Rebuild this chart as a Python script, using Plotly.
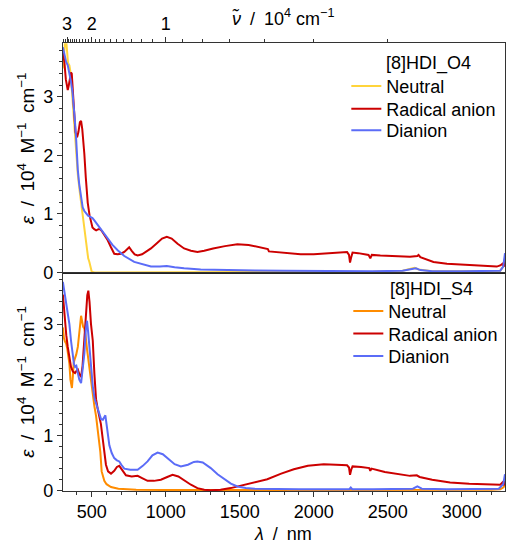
import plotly.graph_objects as go

# ---------------- data ----------------
# [8]HDI_O4 (top panel)
o4_neutral_x = [305, 312, 320, 327, 333, 340, 349, 358, 365, 375, 383, 395, 406, 418, 428, 440, 450, 460,
                468, 476, 484, 492, 500, 520, 600, 800, 1200, 1600, 2000, 2400, 2600, 2680, 2710, 2740,
                2800, 3000, 3200, 3260, 3280, 3292]
o4_neutral_y = [3.49, 3.7, 3.95, 3.98, 3.8, 3.58, 3.54, 3.4, 3.15, 2.75, 2.42, 2.0, 1.67, 1.4, 1.19, 0.95,
                0.74, 0.5, 0.32, 0.24, 0.18, 0.08, 0.01, 0.0, 0.0, 0.01, 0.01, 0.01, 0.01, 0.01, 0.03,
                0.08, 0.05, 0.04, 0.02, 0.02, 0.02, 0.03, 0.1, 0.2]

o4_radical_x = [305, 315, 325, 332, 338, 345, 352, 360, 365, 372, 380, 390, 401, 410, 420, 428, 436, 443,
                450, 460, 473, 485, 495, 505, 517, 530, 545, 558, 570, 590, 608, 630, 652, 675, 697, 720,
                740, 753, 770, 790, 810, 840, 870, 900, 940, 975, 1007, 1040, 1080, 1124, 1170, 1214,
                1260, 1320, 1400, 1484, 1560, 1641, 1690, 1697, 1750, 1830, 1911, 2000, 2100, 2180, 2225,
                2238, 2245, 2252, 2262, 2300, 2370, 2382, 2392, 2450, 2520, 2584, 2650, 2700, 2708, 2720,
                2760, 2809, 2900, 3034, 3150, 3236, 3260, 3275, 3285, 3292]
o4_radical_y = [3.77, 3.6, 3.3, 3.15, 3.12, 3.2, 3.35, 3.42, 3.40, 3.1, 2.75, 2.4, 2.31, 2.4, 2.57, 2.59,
                2.45, 2.25, 2.03, 1.62, 1.19, 0.98, 0.85, 0.77, 0.74, 0.72, 0.74, 0.74, 0.70, 0.62, 0.55,
                0.43, 0.32, 0.31, 0.32, 0.35, 0.41, 0.43, 0.37, 0.31, 0.29, 0.31, 0.36, 0.41, 0.5, 0.58,
                0.61, 0.58, 0.49, 0.41, 0.37, 0.35, 0.37, 0.41, 0.45, 0.48, 0.47, 0.42, 0.40, 0.36, 0.35,
                0.33, 0.31, 0.31, 0.33, 0.34, 0.35, 0.30, 0.17, 0.25, 0.34, 0.33, 0.30, 0.24, 0.30, 0.29,
                0.28, 0.28, 0.27, 0.28, 0.30, 0.26, 0.22, 0.18, 0.15, 0.13, 0.11, 0.10, 0.12, 0.15, 0.10,
                0.25]

o4_dianion_x = [305, 315, 327, 338, 350, 360, 370, 378, 386, 394, 400, 406, 415, 423, 431, 439, 450, 462,
                475, 484, 495, 505, 515, 529, 545, 563, 585, 608, 640, 675, 720, 787, 850, 900, 960, 1007,
                1060, 1124, 1236, 1400, 1600, 1800, 2000, 2200, 2400, 2600, 2660, 2690, 2720, 2800, 3000,
                3200, 3260, 3280, 3292]
o4_dianion_y = [3.85, 3.72, 3.6, 3.54, 3.4, 3.26, 3.08, 2.87, 2.6, 2.31, 2.0, 1.75, 1.52, 1.36, 1.22, 1.11,
                1.05, 1.0, 0.97, 0.96, 0.95, 0.93, 0.9, 0.85, 0.8, 0.75, 0.67, 0.57, 0.47, 0.38, 0.28,
                0.18, 0.13, 0.10, 0.10, 0.11, 0.09, 0.07, 0.05, 0.04, 0.035, 0.03, 0.025, 0.02, 0.02, 0.03,
                0.05, 0.07, 0.04, 0.02, 0.02, 0.02, 0.03, 0.1, 0.33]

# [8]HDI_S4 (bottom panel)
s4_neutral_x = [305, 312, 320, 327, 335, 342, 349, 356, 362, 366, 372, 378, 385, 395, 406, 415, 422, 428,
                435, 442, 450, 458, 468, 480, 492, 507, 518, 529, 540, 551, 558, 567, 575, 585, 600, 630,
                680, 720, 800, 1000, 1500, 2000, 2500, 3000, 3200, 3260, 3280, 3292]
s4_neutral_y = [2.94, 2.75, 2.68, 2.65, 2.55, 2.4, 2.29, 2.0, 1.87, 1.85, 2.05, 2.3, 2.37, 2.45, 2.59, 2.85,
                3.1, 3.15, 3.05, 2.95, 2.92, 2.8, 2.55, 2.3, 2.0, 1.71, 1.52, 1.35, 1.12, 0.94, 0.7, 0.35,
                0.25, 0.18, 0.12, 0.07, 0.04, 0.03, 0.02, 0.015, 0.015, 0.015, 0.02, 0.02, 0.02, 0.03,
                0.06, 0.1]

s4_radical_x = [305, 312, 320, 328, 338, 349, 360, 372, 387, 398, 406, 416, 428, 438, 450, 460, 470, 477,
                485, 495, 507, 518, 529, 540, 551, 562, 574, 585, 596, 610, 630, 652, 670, 686, 705, 731,
                770, 810, 840, 877, 920, 967, 1010, 1046, 1085, 1124, 1170, 1214, 1260, 1304, 1370, 1439,
                1500, 1573, 1686, 1780, 1865, 1960, 2067, 2150, 2225, 2238, 2245, 2253, 2262, 2320, 2375,
                2382, 2390, 2480, 2584, 2650, 2696, 2715, 2800, 2921, 3050, 3213, 3260, 3275, 3285, 3292]
s4_radical_y = [3.53, 3.25, 3.0, 2.8, 2.59, 2.38, 2.23, 2.15, 2.12, 2.16, 2.18, 2.1, 2.05, 2.25, 2.7, 3.2,
                3.52, 3.60, 3.4, 3.0, 2.7, 2.1, 1.65, 1.48, 1.35, 1.2, 0.94, 0.7, 0.47, 0.35, 0.31, 0.36,
                0.43, 0.45, 0.37, 0.28, 0.26, 0.27, 0.23, 0.18, 0.18, 0.20, 0.25, 0.29, 0.26, 0.19, 0.11,
                0.05, 0.02, 0.01, 0.02, 0.05, 0.09, 0.13, 0.21, 0.31, 0.39, 0.45, 0.48, 0.47, 0.46, 0.42,
                0.29, 0.38, 0.44, 0.43, 0.41, 0.36, 0.40, 0.34, 0.29, 0.27, 0.28, 0.25, 0.2, 0.15, 0.13,
                0.11, 0.11, 0.15, 0.10, 0.18]

s4_dianion_x = [305, 315, 327, 338, 349, 360, 372, 380, 387, 396, 406, 416, 428, 438, 450, 460, 468, 476,
                484, 491, 500, 507, 520, 540, 552, 563, 575, 585, 592, 600, 610, 619, 635, 652, 670, 686,
                700, 720, 760, 810, 845, 877, 910, 945, 980, 1020, 1060, 1102, 1150, 1190, 1214, 1250,
                1304, 1350, 1394, 1440, 1484, 1540, 1600, 1700, 1900, 2100, 2240, 2250, 2260, 2400, 2600,
                2670, 2700, 2730, 2900, 3100, 3250, 3280, 3292]
s4_dianion_y = [3.76, 3.6, 3.41, 3.2, 3.0, 2.7, 2.41, 2.28, 2.23, 2.25, 2.12, 2.0, 1.94, 2.15, 2.47, 2.9,
                3.06, 2.85, 2.55, 2.41, 2.1, 1.88, 1.65, 1.47, 1.36, 1.29, 1.28, 1.34, 1.36, 1.2, 0.98,
                0.82, 0.68, 0.59, 0.55, 0.53, 0.47, 0.40, 0.38, 0.38, 0.45, 0.53, 0.64, 0.69, 0.66, 0.57,
                0.48, 0.44, 0.47, 0.52, 0.53, 0.51, 0.41, 0.30, 0.21, 0.13, 0.08, 0.05, 0.04, 0.035, 0.03,
                0.03, 0.03, 0.06, 0.03, 0.03, 0.03, 0.04, 0.08, 0.04, 0.03, 0.03, 0.04, 0.12, 0.3]

series_names = ["Neutral", "Radical anion", "Dianion"]
top_colors = ["#FFD43B", "#CC0000", "#5B6CF7"]
bottom_colors = ["#FF8C00", "#CC0000", "#5B6CF7"]
panel_titles = ["[8]HDI_O4", "[8]HDI_S4"]

# top axis: wavenumber in 10^4 cm^-1
wn_major = [3, 2, 1]
wn_minor = [round(0.4 + 0.1 * i, 1) for i in range(29)]
wn_minor = [v for v in wn_minor if v not in (1.0, 2.0, 3.0)]

X_RANGE = [305, 3292]
Y_RANGE = [0, 3.92]

W, H = 507, 548
def px(x):
    return x / W
def py(y):
    return 1 - y / H

FONT = "Arial, Liberation Sans, sans-serif"
AX = "#333333"
SP = "\u2002"

fig = go.Figure()

top = [(o4_neutral_x, o4_neutral_y), (o4_radical_x, o4_radical_y), (o4_dianion_x, o4_dianion_y)]
bot = [(s4_neutral_x, s4_neutral_y), (s4_radical_x, s4_radical_y), (s4_dianion_x, s4_dianion_y)]

top_leg_y = [88, 111, 133]
bot_leg_y = [317, 340, 363]
legends = {}
for i, ((xs, ys), name, c) in enumerate(zip(top, series_names, top_colors)):
    key = "legend" if i == 0 else f"legend{i + 1}"
    fig.add_trace(go.Scatter(x=xs, y=ys, mode="lines", name=name, line=dict(color=c, width=2),
                             xaxis="x", yaxis="y", legend=key))
    legends[key] = dict(x=px(346), y=py(top_leg_y[i]))
for i, ((xs, ys), name, c) in enumerate(zip(bot, series_names, bottom_colors)):
    key = f"legend{i + 4}"
    fig.add_trace(go.Scatter(x=xs, y=ys, mode="lines", name=name, line=dict(color=c, width=2),
                             xaxis="x2", yaxis="y2", legend=key))
    legends[key] = dict(x=px(348), y=py(bot_leg_y[i]))
# carrier for the top wavenumber axis
fig.add_trace(go.Scatter(x=[X_RANGE[0]], y=[None], mode="lines", xaxis="x3", yaxis="y",
                         showlegend=False, hoverinfo="skip"))

top_dom = [py(277.5), py(44)]
bot_dom = [py(500), py(278)]
x_dom = [px(62), px(505)]

common_y = dict(range=Y_RANGE, showline=True, linecolor=AX, linewidth=1, mirror=True,
                ticks="outside", ticklen=5, tickcolor=AX, dtick=1, tick0=0,
                minor=dict(dtick=0.2, ticks="outside", ticklen=3, tickcolor=AX),
                showgrid=False, zeroline=False, tickfont=dict(size=18, family=FONT, color="black"))

layout = dict(
    width=W, height=H,
    margin=dict(l=0, r=0, t=0, b=0, pad=0),
    paper_bgcolor="white", plot_bgcolor="white",
    font=dict(family=FONT, size=18, color="black"),
    xaxis=dict(domain=x_dom, anchor="y", range=X_RANGE, showline=True, linecolor="#222", linewidth=1.5,
               showticklabels=False, ticks="", showgrid=False, zeroline=False),
    yaxis=dict(domain=top_dom, anchor="x", **common_y),
    xaxis2=dict(domain=x_dom, anchor="y2", range=X_RANGE, showline=True, linecolor=AX, linewidth=1,
                mirror=True, ticks="outside", ticklen=5, tickcolor=AX, dtick=500, tick0=0,
                minor=dict(dtick=100, ticks="outside", ticklen=3, tickcolor=AX),
                showgrid=False, zeroline=False, tickfont=dict(size=18, family=FONT, color="black")),
    yaxis2=dict(domain=bot_dom, anchor="x2", **common_y),
    xaxis3=dict(overlaying="x", anchor="y", side="top", range=X_RANGE, showline=True, linecolor=AX,
                linewidth=1, ticks="outside", ticklen=5, tickcolor=AX,
                tickmode="array", tickvals=[1000 / v for v in wn_major], ticktext=[str(v) for v in wn_major],
                minor=dict(tickmode="array", tickvals=[1000 / v for v in wn_minor], ticks="outside",
                           ticklen=3, tickcolor=AX),
                showgrid=False, zeroline=False, tickfont=dict(size=18, family=FONT, color="black")),
    showlegend=True,
)
for key, pos in legends.items():
    layout[key] = dict(x=pos["x"], y=pos["y"], xanchor="left", yanchor="middle",
                       bgcolor="rgba(0,0,0,0)", borderwidth=0,
                       font=dict(size=18, family=FONT, color="black"), itemwidth=30)
fig.update_layout(**layout)

eps_title = f"<i>ε</i>{SP}/{SP}10<sup>4</sup>{SP}M<sup>−1</sup>{SP}cm<sup>−1</sup>"
ann = [
    dict(text=panel_titles[0], x=px(384), y=py(65), xanchor="left", yanchor="middle", size=18),
    dict(text=panel_titles[1], x=px(388), y=py(295), xanchor="left", yanchor="middle", size=18),
    dict(text=eps_title, x=px(25), y=py(151), textangle=-90, xanchor="center", yanchor="middle", size=19),
    dict(text=eps_title, x=px(25), y=py(389), textangle=-90, xanchor="center", yanchor="middle", size=19),
    dict(text=f"<i>λ</i>{SP}/{SP}nm", x=px(283), y=py(532), xanchor="center", yanchor="top", size=18),
    dict(text=f"<i>ν\u0303</i>{SP}/{SP}10<sup>4</sup> cm<sup>−1</sup>", x=px(283), y=py(18),
         xanchor="center", yanchor="middle", size=18),
]
for a in ann:
    size = a.pop("size")
    fig.add_annotation(xref="paper", yref="paper", showarrow=False,
                       font=dict(size=size, family=FONT, color="black"), **a)

fig.write_html("out.html")
